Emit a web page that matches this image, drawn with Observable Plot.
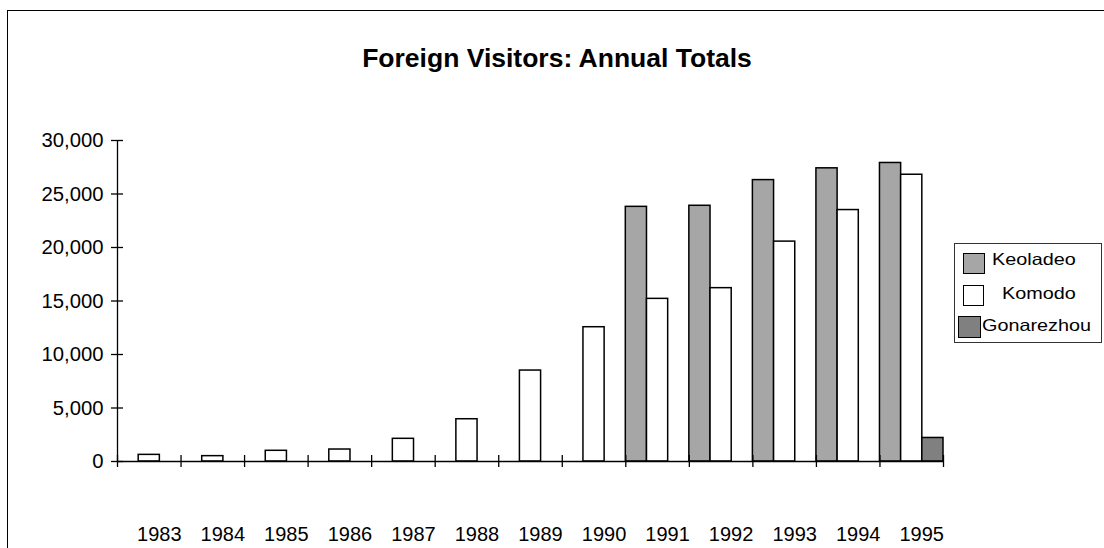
<!DOCTYPE html>
<html><head><meta charset="utf-8">
<script src="https://cdn.jsdelivr.net/npm/d3@7"></script>
<script src="https://cdn.jsdelivr.net/npm/@observablehq/plot@0.6"></script>
<style>
body{margin:0;background:#fff;font-family:"Liberation Sans",Arial,sans-serif;}
#wrap{position:relative;width:1104px;height:548px;overflow:hidden;background:#fff;}
#border{position:absolute;left:7px;top:10px;width:1200px;height:700px;border-left:1.5px solid #000;border-top:1.5px solid #000;}
#title{position:absolute;left:0;top:45px;width:1114px;text-align:center;font-weight:bold;font-size:26.5px;line-height:26px;color:#000;}
#legend{position:absolute;left:954px;top:243px;width:148px;height:100px;border:1.3px solid #333;box-sizing:border-box;}
.sw{position:absolute;border:1px solid #000;box-sizing:border-box;}
.lt{position:absolute;font-size:16.5px;line-height:16px;color:#000;transform:scaleX(1.2);transform-origin:left center;white-space:nowrap;}
#chart{position:absolute;left:0;top:0;}
</style></head><body>
<div id="wrap"><div id="border"></div><div id="chart"></div><div id="title">Foreign Visitors: Annual Totals</div><div id="legend"></div></div>
<script>
const years = [1983,1984,1985,1986,1987,1988,1989,1990,1991,1992,1993,1994,1995];
const series = ["Keoladeo","Komodo","Gonarezhou"];
const keoladeo = [null,null,null,null,null,null,null,null,23800,23900,26300,27400,27900];
const komodo = [620,500,1000,1120,2120,3950,8500,12550,15200,16200,20550,23500,26800];
const gonarezhou = [null,null,null,null,null,null,null,null,null,null,null,null,2200];
const colors = ["#a6a6a6","#ffffff","#808080"];
const yTicks = [0,5000,10000,15000,20000,25000,30000];

const seriesValues = [keoladeo, komodo, gonarezhou];
const rows = [];
years.forEach((yr,i)=>{
  seriesValues.forEach((arr,k)=>{
    if(arr[i]!=null) rows.push({year:String(yr), series:series[k], value:arr[i]});
  });
});

const W=1104,H=548,mL=117,mR=161,mT=140,mB=87;
const bw=(W-mL-mR)/years.length;
const yearStr = years.map(String);

function bars(k){
  return Plot.barY(rows.filter(d=>d.series===series[k]),{
    x:"year", y:"value", fill:colors[k], stroke:"#000", strokeWidth:1.5,
    insetLeft:k*bw/3, insetRight:(2-k)*bw/3
  });
}

const chart = Plot.plot({
  width:W, height:H, marginLeft:mL, marginRight:mR, marginTop:mT, marginBottom:mB,
  style:{fontFamily:"'Liberation Sans', Arial, sans-serif", fontSize:"20px", color:"#000", background:"transparent"},
  x:{type:"band", domain:yearStr, padding:0, round:false, label:null},
  y:{domain:[0,yTicks[yTicks.length-1]], label:null},
  marks:[
    bars(0), bars(1), bars(2),
    Plot.ruleY([0],{stroke:"#000",strokeWidth:1.3}),
    Plot.ruleX([yearStr[0]],{x:d=>d, dx:-bw/2, y1:0, y2:yTicks[yTicks.length-1], stroke:"#000", strokeWidth:1.3}),
    Plot.ruleX(yearStr,{x:d=>d, dx:-bw/2, y1:0, y2:0, insetTop:-6, insetBottom:-6, stroke:"#000", strokeWidth:1.3}),
    Plot.ruleX([yearStr[yearStr.length-1]],{x:d=>d, dx:bw/2, y1:0, y2:0, insetTop:-6, insetBottom:-6, stroke:"#000", strokeWidth:1.3}),
    Plot.axisY({ticks:yTicks, tickSize:12, dx:6, tickPadding:8, tickFormat:d3.format(","), fontSize:20.3, strokeWidth:1.3, label:null}),
    Plot.axisX({tickSize:0, tickPadding:65, dx:10, fontSize:20, label:null})
  ]
});
document.getElementById("chart").appendChild(chart);

// legend
const legend = document.getElementById("legend");
const items = [
  {sw:{l:8,t:9,w:22,h:21}, tx:{l:37,t:7}},
  {sw:{l:8,t:41,w:21,h:21}, tx:{l:47,t:41}},
  {sw:{l:3,t:72,w:23,h:22}, tx:{l:27,t:73}}
];
series.forEach((s,k)=>{
  const it = items[k];
  const sw = document.createElement("div");
  sw.className="sw";
  Object.assign(sw.style,{left:it.sw.l+"px",top:it.sw.t+"px",width:it.sw.w+"px",height:it.sw.h+"px",background:colors[k]});
  legend.appendChild(sw);
  const t = document.createElement("div");
  t.className="lt"; t.textContent=s;
  Object.assign(t.style,{left:it.tx.l+"px",top:it.tx.t+"px"});
  legend.appendChild(t);
});
</script>
</body></html>
